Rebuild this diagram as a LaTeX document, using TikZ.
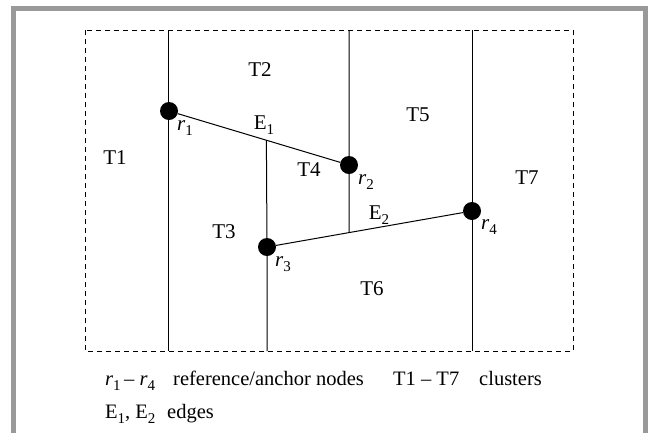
\documentclass[tikz,border=0pt]{standalone}
\usepackage{fontspec}
\setmainfont{Liberation Serif}
\usetikzlibrary{calc}
\newcommand{\lo}[1]{\raisebox{-5.5pt}{\fontsize{15}{15}\selectfont #1}}
\newcommand{\rr}[1]{\textit{r}\lo{#1}}
\newcommand{\ee}[1]{E\lo{#1}}

\begin{document}
\begin{tikzpicture}[x=1pt,y=-1pt,
 frame/.style={draw=black!40,line width=5pt},
 zone/.style={draw,dashed,dash pattern=on 5pt off 4pt,line width=1pt},
 cut/.style={draw,line width=1pt},
 anchorpt/.style={circle,fill=black,minimum size=18pt,inner sep=0pt},
 lab/.style={font=\fontsize{21}{24}\selectfont,inner sep=0pt},
 key/.style={font=\fontsize{20.5}{24}\selectfont,inner sep=0pt,anchor=base west}]
\useasboundingbox (0,0) rectangle (651,432);
\draw[frame] (13,434) -- (13,8) -- (645.5,8) -- (645.5,434);
\draw[zone] (85,30) rectangle (573,351);
% anchor nodes
\node[anchorpt] (r1) at (169,111) {};
\node[anchorpt] (r2) at (349,165) {};
\node[anchorpt] (r3) at (267,247) {};
\node[anchorpt] (r4) at (472,211) {};
\coordinate (j1) at ($(r1)!0.541!(r2)$);
\coordinate (j2) at ($(r3)!0.4!(r4)$);
% borders between clusters
\draw[cut] (168,30) -- (168,351);
\draw[cut] (349,30) -- (r2) -- (j2);
\draw[cut] (472,30) -- (r4) -- (472,351);
\draw[cut] (j1) -- (r3) -- (267,351);
% edges
\draw[cut] (r1) -- (r2);
\draw[cut] (r3) -- (r4);
% labels
\node[lab] (t1) at (115,158) {T1};
\node[lab] (t2) at (260,70) {T2};
\node[lab] (t3) at (224,232) {T3};
\node[lab] (t4) at (309,170) {T4};
\node[lab] (t5) at (418,115) {T5};
\node[lab] (t6) at (372,289) {T6};
\node[lab] (t7) at (527,178) {T7};
\node[lab] (e1) at (264,125) {\ee1};
\node[lab] (e2) at (379,215) {\ee2};
\node[lab] at (185,128) {\rr1};
\node[lab] at (366,182) {\rr2};
\node[lab] at (283,264) {\rr3};
\node[lab] at (489,227) {\rr4};
% legend
\node[key] (k1) at (105,385) {\rr1\,-- \rr4};
\node[key] (k2) at (173,385) {reference/anchor nodes};
\node[key] (k3) at (393,385) {T1 -- T7};
\node[key] (k4) at (479,385) {clusters};
\node[key] (k5) at (105,418) {\ee1, \ee2};
\node[key] (k6) at (167,418) {edges};
\end{tikzpicture}
\end{document}
